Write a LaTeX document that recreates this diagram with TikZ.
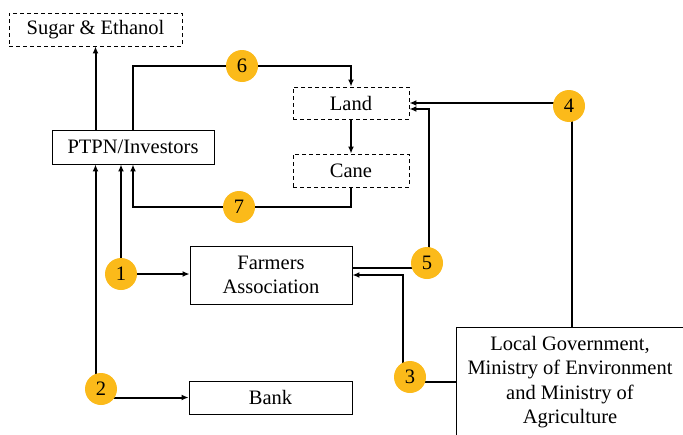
\documentclass[tikz,border=0pt]{standalone}
\usepackage{fontspec}
\setmainfont{LiberationSerif}[Extension=.ttf,UprightFont=*-Regular,BoldFont=*-Bold]
\usetikzlibrary{arrows.meta,backgrounds}
\definecolor{numgold}{RGB}{251,186,26}

\begin{document}
\begin{tikzpicture}[x=1pt,y=-1pt,
    font=\fontsize{20.5}{24.5}\selectfont,
    box/.style={draw,line width=0.9pt,inner sep=0pt,align=center},
    dashbox/.style={box,dashed,dash pattern=on 4pt off 3pt},
    num/.style={circle,fill=numgold,inner sep=0pt,minimum size=32pt},
    flow/.style={line width=2pt},
    arr/.style={flow,-{Latex[length=7pt,width=6pt]}}]
            \useasboundingbox (0,0) rectangle (683,434);
            \node[dashbox,minimum width=173pt,minimum height=33pt] (sugar) at (95.5,29.5) {Sugar \& Ethanol};
            \node[box,minimum width=162pt,minimum height=34pt] (ptpn) at (133,147) {PTPN/Investors};
            \node[dashbox,minimum width=116pt,minimum height=32pt] (land) at (351,103) {Land};
            \node[dashbox,minimum width=116pt,minimum height=33pt] (cane) at (351,170.5) {Cane};
            \node[box,minimum width=162pt,minimum height=58pt] (farmers) at (271,275) {Farmers\\Association};
            \node[box,minimum width=163pt,minimum height=33pt] (bank) at (270.5,397.5) {Bank};
            \node[box,minimum width=228pt,minimum height=110pt] (gov) at (570,382) {Local Government,\\Ministry of Environment\\and Ministry of\\Agriculture};
            % numbered circles
            \node[num] (c1) at (121,274) {1};
            \node[num] (c2) at (101,389) {2};
            \node[num] (c3) at (410,377) {3};
            \node[num] (c4) at (569,106) {4};
            \node[num] (c5) at (427,263) {5};
            \node[num] (c6) at (242,66) {6};
            \node[num] (c7) at (239,207) {7};
            \begin{scope}[on background layer]
            \draw[arr] (ptpn.north -| sugar.south)--(sugar.south);
            \draw[arr] (ptpn.north) |- (c6.center) -| (land.north);
            \draw[arr] (land.south)--(cane.north);
            \draw[arr] (cane.south) |- (c7.center) -| (ptpn.south);
            \draw[arr] (c1.center)--(c1.center |- ptpn.south);
            \draw[arr] (c1.center)--(c1.center -| farmers.west);
            \draw[arr] (c2.center -| sugar.south)--(ptpn.south -| sugar.south);
            \draw[arr] (c2.center |- bank.west)--(bank.west);
            \draw[flow] (c3.center |- gov.west)--(gov.west);
            \draw[arr] ([xshift=-7pt]c3.center) |- (farmers.east);
            \draw[flow] ([yshift=-5pt]c5.center)--([yshift=-5pt]c5.center -| farmers.east);
            \draw[arr] ([xshift=2pt]c5.center) |- ([yshift=-6pt]land.east);
            \draw[arr] (c4.center |- land.east)--(land.east);
            \draw[flow] ([xshift=3pt]c4.center)--([xshift=3pt]c4.center |- gov.north);
            \end{scope}
        \end{tikzpicture}
\end{document}
